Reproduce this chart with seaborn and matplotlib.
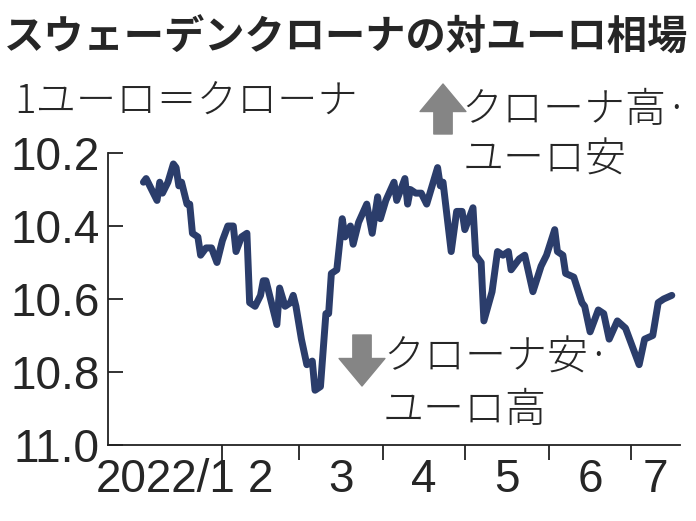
import numpy as np
import pandas as pd
import seaborn as sns
import matplotlib.pyplot as plt
import matplotlib.dates as mdates

# Data (SEK per 1 EUR, 2022)
dates = ["2022-01-03", "2022-01-04", "2022-01-08", "2022-01-09", "2022-01-10", "2022-01-12",
         "2022-01-14", "2022-01-15", "2022-01-16", "2022-01-17", "2022-01-19", "2022-01-20",
         "2022-01-21", "2022-01-23", "2022-01-24", "2022-01-26", "2022-01-28", "2022-01-30",
         "2022-02-01", "2022-02-03", "2022-02-05", "2022-02-06", "2022-02-08", "2022-02-10",
         "2022-02-11", "2022-02-13", "2022-02-15", "2022-02-16", "2022-02-17", "2022-02-19",
         "2022-02-21", "2022-02-22", "2022-02-24", "2022-02-26", "2022-02-27", "2022-02-28",
         "2022-03-02", "2022-03-04", "2022-03-06", "2022-03-07", "2022-03-09", "2022-03-11",
         "2022-03-12", "2022-03-13", "2022-03-15", "2022-03-17", "2022-03-18", "2022-03-20",
         "2022-03-21", "2022-03-23", "2022-03-26", "2022-03-28", "2022-03-30", "2022-03-31",
         "2022-04-02", "2022-04-05", "2022-04-06", "2022-04-09", "2022-04-10", "2022-04-11",
         "2022-04-13", "2022-04-15", "2022-04-17", "2022-04-21", "2022-04-22", "2022-04-23",
         "2022-04-26", "2022-04-28", "2022-04-30", "2022-05-01", "2022-05-04", "2022-05-05",
         "2022-05-07", "2022-05-08", "2022-05-11", "2022-05-13", "2022-05-15", "2022-05-17",
         "2022-05-18", "2022-05-21", "2022-05-23", "2022-05-26", "2022-05-29", "2022-05-31",
         "2022-06-03", "2022-06-04", "2022-06-06", "2022-06-07", "2022-06-10", "2022-06-13",
         "2022-06-14", "2022-06-16", "2022-06-19", "2022-06-21", "2022-06-23", "2022-06-26",
         "2022-06-29", "2022-07-04", "2022-07-06", "2022-07-09", "2022-07-11", "2022-07-13",
         "2022-07-16"]
rates = [10.28, 10.27, 10.33, 10.28, 10.31, 10.28,
         10.23, 10.24, 10.29, 10.28, 10.34, 10.34,
         10.42, 10.43, 10.48, 10.46, 10.46, 10.50,
         10.44, 10.40, 10.40, 10.47, 10.43, 10.42,
         10.61, 10.62, 10.59, 10.55, 10.55, 10.61,
         10.67, 10.57, 10.62, 10.61, 10.59, 10.62,
         10.71, 10.78, 10.77, 10.85, 10.84, 10.64,
         10.64, 10.53, 10.52, 10.38, 10.43, 10.40,
         10.45, 10.39, 10.34, 10.42, 10.32, 10.38,
         10.33, 10.28, 10.33, 10.27, 10.34, 10.30,
         10.31, 10.31, 10.34, 10.24, 10.29, 10.28,
         10.47, 10.36, 10.36, 10.41, 10.35, 10.48,
         10.50, 10.66, 10.58, 10.47, 10.48, 10.47,
         10.52, 10.49, 10.48, 10.58, 10.51, 10.48,
         10.41, 10.47, 10.48, 10.53, 10.54, 10.61,
         10.62, 10.69, 10.63, 10.64, 10.71, 10.66,
         10.68, 10.78, 10.71, 10.70, 10.61, 10.60,
         10.59]
month_starts = ["2022-02-01", "2022-03-01", "2022-04-01", "2022-05-01", "2022-06-01", "2022-07-01"]
month_labels = ["2022/1", "2", "3", "4", "5", "6", "7"]
y_ticks = [10.2, 10.4, 10.6, 10.8, 11.0]

df = pd.DataFrame({"date": pd.to_datetime(dates), "rate": rates})

sns.set_style("ticks")
jp = ["Noto Sans CJK JP", "DejaVu Sans"]
num = ["Liberation Sans Narrow", "Liberation Sans", "DejaVu Sans"]
plt.rcParams["font.family"] = jp

W, H = 696, 521
fig = plt.figure(figsize=(W / 100, H / 100), dpi=100)
ax = fig.add_axes([108 / W, 1 - 445 / H, (680 - 108) / W, (445 - 153) / H])

sns.lineplot(data=df, x="date", y="rate", ax=ax, color="#2b3d6b", linewidth=5,
             solid_joinstyle="round", solid_capstyle="round")

xmin = pd.Timestamp("2021-12-21")
xmax = pd.Timestamp("2022-07-19")
ax.set_xlim(xmin, xmax)
ax.set_ylim(11.0, 10.2)

# month boundary ticks, labels centred between them
bounds = [xmin] + list(pd.to_datetime(month_starts)) + [xmax]
bnum = mdates.date2num(bounds)
mids = (bnum[:-1] + bnum[1:]) / 2
ax.set_xticks(mdates.date2num(pd.to_datetime(month_starts)))
ax.set_xticklabels([])
ax.set_xticks(mids, minor=True)
ax.set_xticklabels(month_labels, minor=True, family=num, fontsize=33)
ax.tick_params(axis="x", which="major", direction="out", length=11, width=1.3, color="#222222")
ax.tick_params(axis="x", which="minor", length=0, pad=9)

ax.set_yticks(y_ticks)
ax.set_yticklabels([f"{v:.1f}" for v in y_ticks], family=num, fontsize=33)
ax.tick_params(axis="y", direction="in", length=11, width=1.3, color="#222222", pad=6)

for s in ["top", "right"]:
    ax.spines[s].set_visible(False)
for s in ["left", "bottom"]:
    ax.spines[s].set_linewidth(1.3)
    ax.spines[s].set_color("#222222")
ax.set_xlabel("")
ax.set_ylabel("")


def fx(x):
    return x / W


def fy(y):
    return 1 - y / H


fig.text(fx(4), fy(38), "スウェーデンクローナの対ユーロ相場", fontsize=29, fontweight="bold",
         va="center", ha="left", family=jp)
fig.text(fx(14), fy(102), "1ユーロ＝クローナ", fontsize=29, fontweight="light",
         va="center", ha="left", family=jp)

fig.text(fx(461), fy(110), "クローナ高·", fontsize=29.5, fontweight="light",
         va="center", ha="left", family=jp)
fig.text(fx(463), fy(160), "ユーロ安", fontsize=29.5, fontweight="light",
         va="center", ha="left", family=jp)
fig.text(fx(383), fy(358), "クローナ安·", fontsize=29.5, fontweight="light",
         va="center", ha="left", family=jp)
fig.text(fx(383), fy(410), "ユーロ高", fontsize=29.5, fontweight="light",
         va="center", ha="left", family=jp)

arrow = dict(arrowstyle="simple,head_width=1.5,head_length=0.9,tail_width=0.6",
             mutation_scale=22, color="#858585", shrinkA=0, shrinkB=0)
fig.add_artist(plt.Annotation("", xy=(443, H - 84), xytext=(443, H - 134),
                              xycoords="figure pixels", textcoords="figure pixels",
                              arrowprops=arrow))
fig.add_artist(plt.Annotation("", xy=(362, H - 386), xytext=(362, H - 335),
                              xycoords="figure pixels", textcoords="figure pixels",
                              arrowprops=arrow))

fig.savefig("out.png", dpi=100)
